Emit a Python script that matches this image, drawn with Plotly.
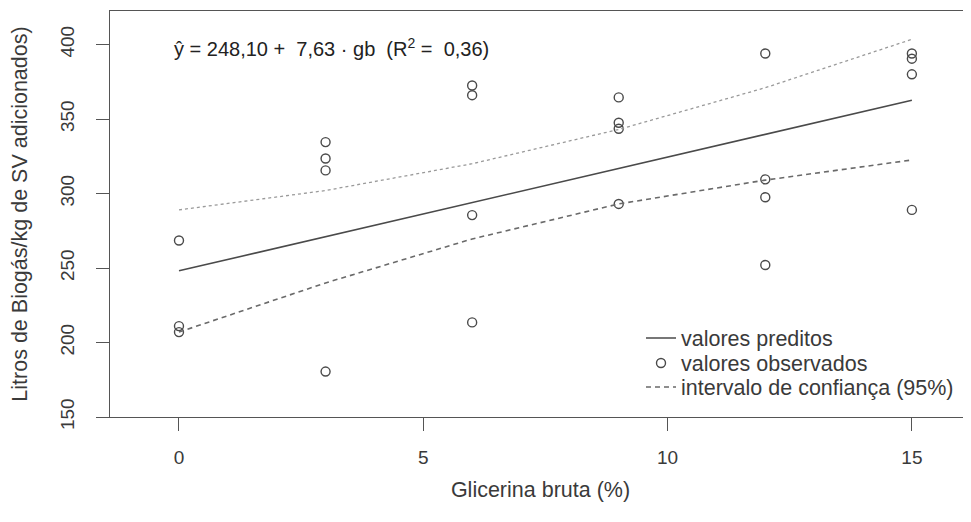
import plotly.graph_objects as go

obs_x = [0, 0, 0, 3, 3, 3, 3, 6, 6, 6, 6, 9, 9, 9, 9, 12, 12, 12, 12, 15, 15, 15, 15]
obs_y = [268.5, 211, 207, 334.5, 323.5, 315.5, 180.5, 372.5, 366, 285.5, 213.5,
         364.5, 347.5, 343.5, 293, 394, 309.5, 297.5, 252, 394, 390.5, 380, 289]

# Fitted line and confidence band at the treatment levels
lvl_x = [0, 3, 6, 9, 12, 15]
pred_y = [248.1, 271.0, 293.9, 316.8, 339.7, 362.6]
upper_y = [289, 302, 320, 343, 371, 403.5]
lower_y = [207, 240, 269.5, 293, 309, 322.5]

x_ticks = [0, 5, 10, 15]
y_ticks = [150, 200, 250, 300, 350, 400]

FONT = "Liberation Sans, Arial, sans-serif"
TXT = "#3a3a3a"

# page body has an 8px offset; plot area pixel box in the page: x 110..971, y 11..417
PL, PT, PB = 110, 11, 417
PH = PB - PT
PW = 971 - PL

fig = go.Figure()
fig.add_trace(go.Scatter(x=lvl_x, y=pred_y, mode="lines", name="valores preditos",
                         legend="legend",
                         line=dict(color="#4a4a4a", width=1.6)))
fig.add_trace(go.Scatter(x=obs_x, y=obs_y, mode="markers", name="valores observados",
                         legend="legend2",
                         marker=dict(symbol="circle-open", size=9, color="#4a4a4a",
                                     line=dict(width=1.4, color="#4a4a4a"))))
fig.add_trace(go.Scatter(x=lvl_x, y=lower_y, mode="lines", name="intervalo de confiança (95%)",
                         legend="legend3",
                         line=dict(color="#6a6a6a", width=1.6, dash="5px,4px")))
fig.add_trace(go.Scatter(x=lvl_x, y=upper_y, mode="lines", showlegend=False,
                         line=dict(color="#9a9a9a", width=1.3, dash="dot")))

fig.add_annotation(x=-0.14, y=398, xref="x", yref="y", xanchor="left", yanchor="middle",
                   showarrow=False,
                   text="ŷ = 248,10 +\u00a0\u00a07,63 · gb\u00a0\u00a0(R<sup>2</sup> =\u00a0\u00a00,36)",
                   font=dict(family=FONT, size=20, color="#222"))

axis_common = dict(showgrid=False, zeroline=False, showline=True, linecolor="#555",
                   linewidth=1.3, ticks="outside", ticklen=13, tickcolor="#555",
                   tickwidth=1.3, tickfont=dict(family=FONT, size=19, color=TXT))


def leg(yc):
    return dict(x=(641 - PL) / PW, y=(PB - yc) / PH, xanchor="left", yanchor="middle",
                bgcolor="rgba(0,0,0,0)", font=dict(family=FONT, size=21.5, color=TXT))


fig.update_layout(
    width=963, height=514,
    margin=dict(l=PL - 8, r=0, t=PT - 8, b=514 - (PB - 8)),
    paper_bgcolor="white", plot_bgcolor="white",
    showlegend=True,
    legend=leg(338),
    legend2=leg(363),
    legend3=leg(387),
    xaxis=dict(range=[-1.412, 16.21], tickvals=x_ticks, mirror=True,
               ticklabelstandoff=10,
               title=dict(text="Glicerina bruta (%)", standoff=14,
                          font=dict(family=FONT, size=21.5, color=TXT)),
               **axis_common),
    yaxis=dict(range=[150, 422.5], tickvals=y_ticks, tickangle=-90,
               ticklabelstandoff=14,
               title=dict(text="Litros de Biogás/kg de SV adicionados)", standoff=34,
                          font=dict(family=FONT, size=21.5, color=TXT)),
               **axis_common),
)

fig.write_html("out.html")
